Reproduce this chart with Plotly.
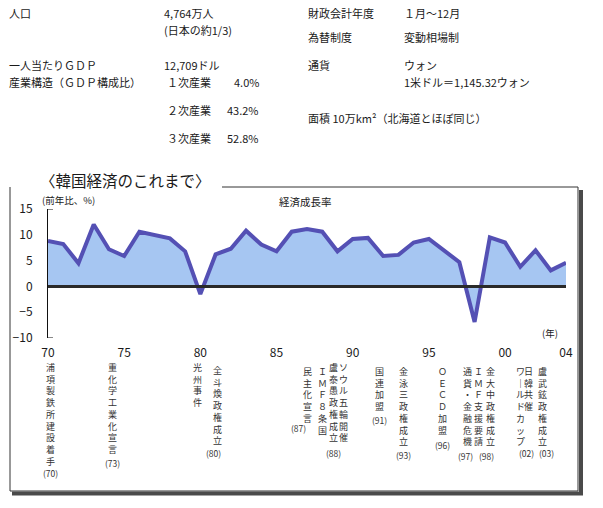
import plotly.graph_objects as go

# ---------------- data ----------------
years = list(range(1970, 2005))
growth = [8.8, 8.2, 4.5, 12.0, 7.2, 5.9, 10.6, 10.0, 9.3, 6.8,
          -1.5, 6.2, 7.3, 10.8, 8.1, 6.8, 10.6, 11.1, 10.6, 6.8,
          9.2, 9.4, 5.9, 6.1, 8.5, 9.2, 7.0, 4.7, -6.9, 9.5,
          8.5, 3.8, 7.0, 3.1, 4.6]
x_tickvals = [1970, 1975, 1980, 1985, 1990, 1995, 2000, 2004]
x_ticktext = ["70", "75", "80", "85", "90", "95", "00", "04"]
y_tickvals = [-10, -5, 0, 5, 10, 15]

# header info (label, value)
info_left = [("人口", "4,764万人"), ("", "(日本の約1/3)"),
             ("一人当たりＧＤＰ", "12,709ドル"), ("産業構造（ＧＤＰ構成比）", "")]
industry = [("１次産業", "4.0%"), ("２次産業", "43.2%"), ("３次産業", "52.8%")]
info_right = [("財政会計年度", "１月～12月"), ("為替制度", "変動相場制"),
              ("通貨", "ウォン"), ("", "1米ドル＝1,145.32ウォン"),
              ("面積 10万km²（北海道とほぼ同じ）", "")]

# events (vertical text columns) and year tags
event_texts = ["浦項製鉄所建設着手", "重化学工業化宣言", "光州事件", "全斗煥政権成立",
               "民主化宣言", "ＩＭＦ８条国", "盧泰愚政権成立", "ソウル五輪開催",
               "国連加盟", "金泳三政権成立", "ＯＥＣＤ加盟",
               "通貨・金融危機", "ＩＭＦ支援要請", "金大中政権成立",
               "ワ｜ルドカップ", "日韓共催", "盧武鉉政権成立"]
year_tags = ["(70)", "(73)", "(80)", "(87)", "(88)", "(91)", "(93)", "(96)",
             "(97)", "(98)", "(02)", "(03)"]

# ---------------- layout geometry (pixels) ----------------
W, H = 603, 508
L, R, T, B = 48, 37, 209, 170
PW, PH = W - L - R, H - T - B

def px(x):
    return (x - L) / PW

def py(y):
    return (H - B - y) / PH

FONT = "Noto Sans CJK JP, sans-serif"
TXT = "#1a1a1a"

fig = go.Figure()
fig.add_trace(go.Scatter(
    x=years, y=growth, mode="lines", fill="tozeroy",
    fillcolor="#A6C6F2", line=dict(color="#5450B4", width=4),
    hoverinfo="skip", showlegend=False))

fig.add_hline(y=0, line=dict(color="#2a2a2a", width=3), layer="above")

ann = []
def text(x, y, s, size=11, xanchor="left", yanchor="middle", color=TXT):
    ann.append(dict(x=px(x), y=py(y), xref="paper", yref="paper", text=s,
                    showarrow=False, xanchor=xanchor, yanchor=yanchor,
                    font=dict(family=FONT, size=size, color=color)))

# header block
left_rows_y = [13, 30, 65, 82]
for (lab, val), yy in zip(info_left, left_rows_y):
    if lab:
        text(7, yy, lab)
    if val:
        text(162, yy, val)
for (lab, val), yy in zip(industry, [82, 110, 138]):
    text(165, yy, lab)
    text(261, yy, val, xanchor="right")
right_rows_y = [13, 37, 65, 82, 118]
for (lab, val), yy in zip(info_right, right_rows_y):
    if lab:
        text(306, yy, lab)
    if val:
        text(402, yy, val)

# chart box title & labels
text(125, 180, "〈韓国経済のこれまで〉", size=15.5, xanchor="center")
text(40, 200, "(前年比、%)", size=9.5)
text(305, 201, "経済成長率", size=10.5, xanchor="center")
text(550, 333, "(年)", size=9.5, xanchor="center")

# vertical event columns
event_x = [50, 112, 197, 217, 307, 322, 333, 343, 379, 403, 442,
           467, 478, 490, 520, 528, 542]
event_top = [359, 359, 359, 362, 363, 363, 359, 359, 363, 363, 363,
             363, 363, 363, 363, 363, 363]
for s, xx, yt in zip(event_texts, event_x, event_top):
    ann.append(dict(x=px(xx), y=py(yt), xref="paper", yref="paper",
                    text="<br>".join(list(s)), showarrow=False,
                    xanchor="center", yanchor="top", align="center",
                    font=dict(family=FONT, size=9, color="#333")))
tag_pos = [(50, 473), (112, 463), (213, 453), (298, 428), (333, 453),
           (379, 420), (403, 455), (442, 445), (465, 456), (486, 456),
           (526, 453), (546, 453)]
for s, (xx, yy) in zip(year_tags, tag_pos):
    text(xx, yy, s, size=8.5, xanchor="center", color="#333")

shapes = []
def seg(x0, y0, x1, y1, color="#333", width=1):
    shapes.append(dict(type="line", xref="paper", yref="paper",
                       x0=px(x0), y0=py(y0), x1=px(x1), y1=py(y1),
                       line=dict(color=color, width=width)))

# box border with gap for title
seg(10, 187, 27, 187)
seg(222, 187, 578, 187)
seg(10, 187, 10, 491)
seg(578, 187, 578, 491)
seg(10, 491, 578, 491)
# shadow
seg(581, 190, 581, 495, color="#4a4a4a", width=4)
seg(12, 493.5, 583, 493.5, color="#4a4a4a", width=4)
# small end ticks on y axis
for yv in (y_tickvals[0], y_tickvals[-1]):
    shapes.append(dict(type="line", xref="paper", yref="y", x0=0, x1=px(L + 5),
                       y0=yv, y1=yv, line=dict(color="#111", width=1)))

fig.update_layout(
    width=W, height=H, margin=dict(l=L, r=R, t=T, b=B),
    paper_bgcolor="white", plot_bgcolor="white",
    annotations=ann, shapes=shapes,
    xaxis=dict(range=[years[0], years[-1]], tickvals=x_tickvals, ticktext=x_ticktext,
               showgrid=False, zeroline=False, showline=False, ticks="",
               ticklabelstandoff=6,
               tickfont=dict(family=FONT, size=12, color=TXT)),
    yaxis=dict(range=[-10, 15], tickvals=y_tickvals, showgrid=False, zeroline=False,
               showline=True, linecolor="#111", linewidth=1, ticks="",
               ticklabelstandoff=12,
               tickfont=dict(family=FONT, size=12, color=TXT)),
)

fig.write_html("out.html", config={"displayModeBar": False},
               post_script="document.body.style.margin='0';document.body.style.overflow='hidden';")
